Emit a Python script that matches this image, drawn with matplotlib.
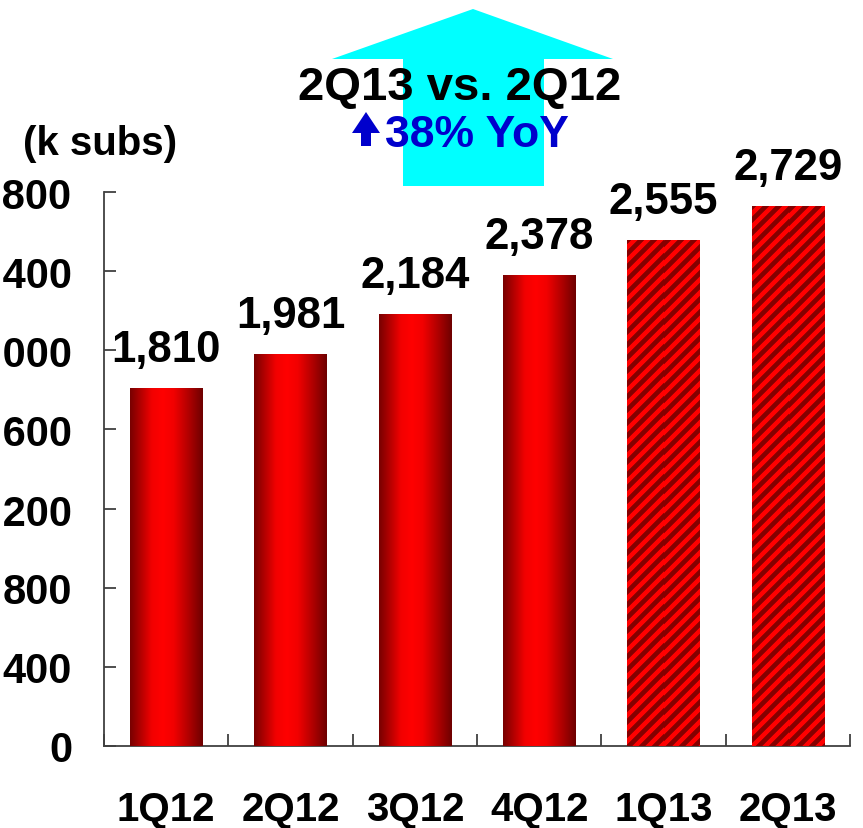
import numpy as np
import matplotlib
matplotlib.use("Agg")
import matplotlib.pyplot as plt
from matplotlib.patches import Polygon

plt.rcParams['font.family'] = ['Liberation Sans', 'DejaVu Sans']
plt.rcParams['font.weight'] = 'bold'

# Subscribers by quarter (thousands)
quarters = ["1Q12", "2Q12", "3Q12", "4Q12", "1Q13", "2Q13"]
subs = [1810, 1981, 2184, 2378, 2555, 2729]
striped = [False, False, False, False, True, True]
y_ticks = [0, 400, 800, 1200, 1600, 2000, 2400, 2800]
y_tick_labels = ["0", "400", "800", "1,200", "1,600", "2,000", "2,400", "2,800"]
unit_label = "(k subs)"
headline = "2Q13 vs. 2Q12"
growth_text = "38% YoY"

W, H = 863, 829
DPI = 100
fig = plt.figure(figsize=(W / DPI, H / DPI), dpi=DPI)

def fx(px):
    return px / W

def fy(py):
    return 1 - py / H

ax = fig.add_axes([fx(104), fy(747), fx(850) - fx(104), fy(193) - fy(747)])
ax.patch.set_alpha(0)

x = np.arange(len(quarters))
bar_w = 0.58
bars = ax.bar(x, subs, width=bar_w, color="#ff0000", edgecolor="none", zorder=2)

ax.set_xlim(-0.5, len(quarters) - 0.5)
ax.set_ylim(0, 2800)

# cylinder-like horizontal shading for solid bars
stops_t = [0.0, 0.12, 0.3, 0.45, 0.6, 0.8, 1.0]
stops_v = [0.47, 0.66, 0.95, 1.0, 0.95, 0.7, 0.43]
tt = np.linspace(0, 1, 200)
rr = np.interp(tt, stops_t, stops_v)
grad = np.zeros((1, tt.size, 3))
grad[0, :, 0] = rr

ax_w_px = 850 - 104
ax_h_px = 747 - 193
period = 13.0
for b, s in zip(bars, striped):
    x0, w, h = b.get_x(), b.get_width(), b.get_height()
    ext = [x0, x0 + w, 0, h]
    if not s:
        im = ax.imshow(grad, extent=ext, aspect='auto', interpolation='bilinear',
                       zorder=3)
    else:
        wp = int(round(w / 6.0 * ax_w_px))
        hp = int(round(h / 2800.0 * ax_h_px))
        cols = np.arange(wp)[None, :]
        rows = np.arange(hp)[:, None]
        phase = ((rows + cols) % period) / period
        # diagonal bright/dark red bands
        d = np.abs(phase - 0.5)
        bright = np.clip((0.24 - d) / 0.1 + 0.5, 0, 1)
        tex = np.zeros((hp, wp, 3))
        tex[..., 0] = 0.52 + 0.48 * bright
        im = ax.imshow(tex, extent=ext, aspect='auto', interpolation='nearest',
                       zorder=3)
    im.set_clip_path(b)

ax.set_xlim(-0.5, len(quarters) - 0.5)
ax.set_ylim(0, 2800)

for b, v in zip(bars, subs):
    ax.annotate(f"{v:,}", (b.get_x() + b.get_width() / 2, v),
                xytext=(0, 19.5), textcoords='offset points',
                ha='center', va='baseline', fontsize=31.5, fontweight='bold',
                color='black', zorder=5)

# axes styling
for side in ['top', 'right']:
    ax.spines[side].set_visible(False)
spine_c = "#404040"
for side in ['left', 'bottom']:
    ax.spines[side].set_color(spine_c)
    ax.spines[side].set_linewidth(1.3)

ax.set_yticks(y_ticks)
ax.set_yticklabels(y_tick_labels)
ax.tick_params(axis='y', direction='in', length=8.6, width=1.3, color=spine_c,
               pad=23, labelsize=30)
for lab in ax.get_yticklabels():
    lab.set_fontweight('bold')

ax.set_xticks(np.arange(len(quarters) + 1) - 0.5)
ax.set_xticklabels([])
ax.tick_params(axis='x', which='major', direction='in', length=8.6, width=1.3,
               color=spine_c)
ax.set_xticks(x, minor=True)
ax.set_xticklabels(quarters, minor=True)
ax.tick_params(axis='x', which='minor', length=0, pad=32, labelsize=29)
for lab in ax.get_xticklabels(minor=True):
    lab.set_fontweight('bold')

fig.text(fx(100), fy(155), unit_label, ha='center', va='baseline',
         fontsize=29, fontweight='bold')

# big cyan growth arrow
big_arrow = [(473, 10), (613, 60), (544, 60), (544, 187), (403, 187),
             (403, 60), (332, 60)]
fig.add_artist(Polygon([(fx(a), fy(b)) for a, b in big_arrow], closed=True,
                       transform=fig.transFigure, facecolor="#00ffff",
                       edgecolor="none", zorder=1))

fig.text(fx(459.5), fy(100), headline, ha='center', va='baseline',
         fontsize=34, fontweight='bold', color='black', zorder=4)

# small blue up arrow before the growth figure
small_arrow = [(366, 113), (380, 134), (371, 134), (371, 147), (361, 147),
               (361, 134), (352, 134)]
fig.add_artist(Polygon([(fx(a), fy(b)) for a, b in small_arrow], closed=True,
                       transform=fig.transFigure, facecolor="#0000cc",
                       edgecolor="none", zorder=4))
fig.text(fx(385), fy(147), growth_text, ha='left', va='baseline',
         fontsize=32, fontweight='bold', color='#0000cc', zorder=4)

fig.savefig("out.png", dpi=DPI)
